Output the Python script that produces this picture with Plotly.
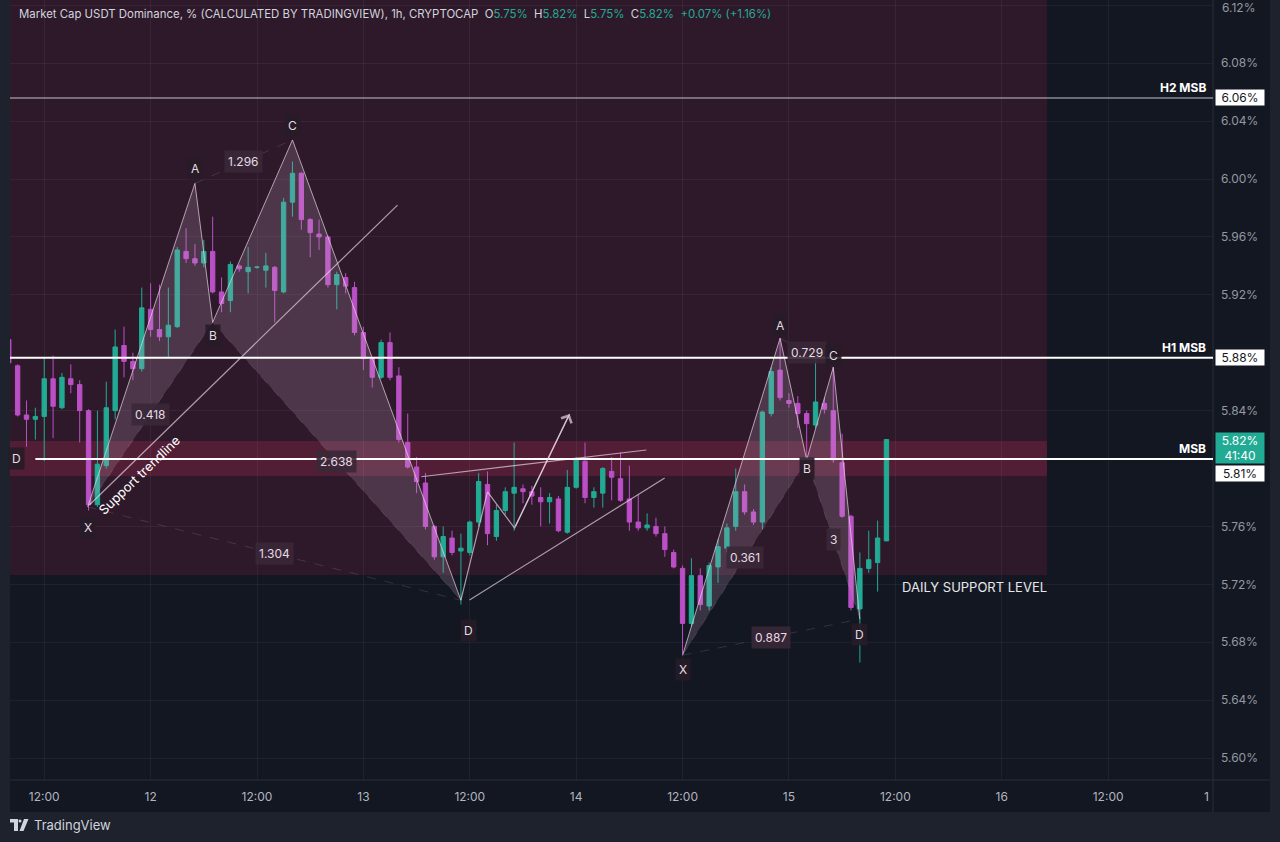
import plotly.graph_objects as go

# hourly candles, hour index counted from the 11th at 00:00
HOURS = list(range(8, 108))
OPEN = [
    5.889, 5.871, 5.837, 5.834, 5.836, 5.862, 5.842, 5.862, 5.858, 5.840,
    5.775, 5.802, 5.840, 5.885, 5.874, 5.869, 5.910, 5.896, 5.891, 5.898,
    5.950, 5.945, 5.942, 5.950, 5.922, 5.916, 5.940, 5.936, 5.939, 5.937,
    5.939, 5.922, 5.984, 6.004, 5.972, 5.962, 5.960, 5.927, 5.932, 5.925,
    5.894, 5.876, 5.863, 5.887, 5.864, 5.818, 5.801, 5.790, 5.760, 5.739,
    5.752, 5.743, 5.742, 5.763, 5.789, 5.753, 5.771, 5.783, 5.786, 5.784,
    5.780, 5.777, 5.779, 5.756, 5.787, 5.805, 5.780, 5.783, 5.798, 5.793,
    5.779, 5.763, 5.759, 5.760, 5.755, 5.742, 5.731, 5.693, 5.726, 5.705,
    5.732, 5.745, 5.760, 5.784, 5.770, 5.763, 5.838, 5.868, 5.847, 5.845,
    5.838, 5.830, 5.845, 5.840, 5.804, 5.767, 5.703, 5.731, 5.735, 5.750,
]
HIGH = [
    5.890, 5.872, 5.847, 5.842, 5.877, 5.878, 5.866, 5.872, 5.861, 5.841,
    5.840, 5.860, 5.896, 5.898, 5.880, 5.925, 5.928, 5.927, 5.925, 5.953,
    5.966, 5.955, 5.958, 5.974, 5.932, 5.943, 5.941, 5.953, 5.940, 5.949,
    5.940, 5.987, 6.012, 6.005, 5.973, 5.972, 5.961, 5.936, 5.935, 5.929,
    5.898, 5.877, 5.889, 5.894, 5.870, 5.838, 5.808, 5.797, 5.761, 5.760,
    5.757, 5.755, 5.764, 5.797, 5.798, 5.775, 5.787, 5.818, 5.789, 5.788,
    5.787, 5.783, 5.781, 5.799, 5.808, 5.818, 5.787, 5.801, 5.808, 5.811,
    5.802, 5.782, 5.769, 5.766, 5.760, 5.744, 5.733, 5.738, 5.731, 5.735,
    5.751, 5.762, 5.800, 5.789, 5.772, 5.840, 5.870, 5.890, 5.852, 5.850,
    5.840, 5.878, 5.849, 5.870, 5.824, 5.768, 5.742, 5.757, 5.764, 5.820,
]
LOW = [
    5.871, 5.836, 5.815, 5.820, 5.805, 5.821, 5.841, 5.852, 5.818, 5.771,
    5.7735, 5.800, 5.834, 5.863, 5.861, 5.867, 5.891, 5.888, 5.876, 5.897,
    5.942, 5.940, 5.939, 5.921, 5.908, 5.908, 5.936, 5.921, 5.938, 5.925,
    5.901, 5.921, 5.974, 5.965, 5.946, 5.951, 5.925, 5.910, 5.921, 5.892,
    5.868, 5.856, 5.862, 5.861, 5.818, 5.800, 5.783, 5.758, 5.737, 5.728,
    5.740, 5.706, 5.740, 5.760, 5.747, 5.750, 5.768, 5.757, 5.776, 5.775,
    5.760, 5.762, 5.756, 5.755, 5.786, 5.776, 5.773, 5.773, 5.778, 5.777,
    5.757, 5.757, 5.757, 5.753, 5.739, 5.731, 5.672, 5.691, 5.702, 5.702,
    5.721, 5.742, 5.757, 5.768, 5.761, 5.758, 5.836, 5.847, 5.842, 5.828,
    5.806, 5.828, 5.838, 5.804, 5.766, 5.702, 5.666, 5.728, 5.715, 5.750,
]
CLOSE = [
    5.873, 5.837, 5.834, 5.836, 5.862, 5.843, 5.863, 5.858, 5.840, 5.775,
    5.803, 5.842, 5.884, 5.874, 5.869, 5.911, 5.896, 5.891, 5.899, 5.951,
    5.945, 5.942, 5.950, 5.922, 5.914, 5.941, 5.938, 5.939, 5.9392, 5.940,
    5.923, 5.984, 6.004, 5.972, 5.963, 5.960, 5.927, 5.934, 5.926, 5.894,
    5.876, 5.863, 5.887, 5.863, 5.820, 5.801, 5.791, 5.760, 5.739, 5.753,
    5.742, 5.745, 5.763, 5.791, 5.755, 5.771, 5.784, 5.787, 5.784, 5.781,
    5.777, 5.780, 5.757, 5.787, 5.807, 5.780, 5.784, 5.800, 5.794, 5.778,
    5.763, 5.759, 5.761, 5.755, 5.744, 5.732, 5.693, 5.726, 5.706, 5.733,
    5.746, 5.759, 5.784, 5.770, 5.763, 5.839, 5.867, 5.849, 5.845, 5.838,
    5.831, 5.846, 5.841, 5.806, 5.767, 5.704, 5.731, 5.737, 5.752, 5.820,
]

X_TICKS = [12, 24, 36, 48, 60, 72, 84, 96, 108, 120, 132]
X_TICK_TEXT = ["12:00", "12", "12:00", "13", "12:00", "14", "12:00", "15", "12:00", "16", "12:00"]
Y_TICKS = [5.60, 5.64, 5.68, 5.72, 5.76, 5.84, 5.92, 5.96, 6.00, 6.04, 6.08, 6.12]
Y_TOP_LABEL = 6.12   # plotly drops this label at the very top edge, written by hand

# market structure levels
LEVEL_NAMES = ["H2 MSB", "H1 MSB", "MSB"]
LEVEL_PRICES = [6.056, 5.8765, 5.8066]
LEVEL_TAGS = ["6.06%", "5.88%", "5.81%"]
ZONE_BOTTOM = 5.7264      # daily support box
ZONE_END = 125.1
BAND = [5.7948, 5.819]     # MSB band

# XABCD patterns: points X, A, B, C, D and ratios XB, AC, BD, XD
P1_HOURS = [16.9, 29.0, 31.0, 40.0, 59.0]
P1_PRICES = [5.7735, 5.997, 5.901, 6.027, 5.709]
P1_RATIOS = ["0.418", "1.296", "2.638", "1.304"]
P2_HOURS = [84.0, 95.0, 98.0, 101.0, 104.0]
P2_PRICES = [5.671, 5.890, 5.806, 5.870, 5.696]
P2_RATIOS = ["0.361", "0.729", "3", "0.887"]

# hand drawn lines
TREND_HOURS = [17.09, 51.85]
TREND_PRICES = [5.7748, 5.982]
WEDGE_UP_HOURS = [54.53, 79.91]
WEDGE_UP_PRICES = [5.7943, 5.8128]
WEDGE_LOW_HOURS = [59.97, 81.98]
WEDGE_LOW_PRICES = [5.7092, 5.7934]
ARROW_HOURS = [59.0, 62.0, 65.05, 71.26]
ARROW_PRICES = [5.709, 5.7838, 5.7589, 5.8377]

BG = "#131722"
TEAL = "#22ab94"
MAGENTA = "#bb4fc6"
FONT = "Inter"

# plot area in pixels: left 10, right 1213, top 0, bottom 780
L, R, T, B = 10, 67, 0, 62
PW, PH = 1280 - L - R, 842 - T - B


def px(x):
    return (x - L) / PW


def py(y):
    return (PH + T - y) / PH


fig = go.Figure()

LINE_COL = "rgba(232,212,228,0.7)"
FILL_COL = "rgba(205,168,198,0.2)"


def pattern_fills(hours, prices):
    x, a, b, c, d = range(5)
    for tri in ([x, a, b, x], [b, c, d, b]):
        fig.add_trace(go.Scatter(
            x=[hours[i] for i in tri], y=[prices[i] for i in tri],
            fill="toself", fillcolor=FILL_COL, mode="lines",
            line=dict(width=0), hoverinfo="skip", showlegend=False,
        ))


def pattern_lines(hours, prices, ratios, shifts):
    fig.add_trace(go.Scatter(
        x=hours, y=prices, mode="lines",
        line=dict(color=LINE_COL, width=1), hoverinfo="skip", showlegend=False,
    ))
    for (i, j), text in zip([(0, 2), (1, 3), (2, 4), (0, 4)], ratios):
        fig.add_trace(go.Scatter(
            x=[hours[i], hours[j]], y=[prices[i], prices[j]], mode="lines",
            line=dict(color="rgba(232,212,228,0.14)", width=1, dash="dash"),
            hoverinfo="skip", showlegend=False,
        ))
        fig.add_annotation(
            x=(hours[i] + hours[j]) / 2, y=(prices[i] + prices[j]) / 2,
            text=text, showarrow=False, bgcolor="rgba(58,40,55,0.9)", borderpad=3,
            font=dict(family=FONT, size=12, color="#e6dae4"),
        )
    for name, h, p, (dx, dy) in zip("XABCD", hours, prices, shifts):
        fig.add_annotation(
            x=h, y=p, text=name, showarrow=False, xshift=dx, yshift=dy,
            bgcolor="rgba(38,28,38,0.9)", borderpad=3,
            font=dict(family=FONT, size=12, color="#e6dae4"),
        )


pattern_fills(P1_HOURS, P1_PRICES)
pattern_fills(P2_HOURS, P2_PRICES)

fig.add_trace(go.Candlestick(
    x=HOURS, open=OPEN, high=HIGH, low=LOW, close=CLOSE,
    increasing=dict(line=dict(color=TEAL, width=1), fillcolor=TEAL),
    decreasing=dict(line=dict(color=MAGENTA, width=1), fillcolor=MAGENTA),
    showlegend=False, hoverinfo="skip",
))

pattern_lines(P1_HOURS, P1_PRICES, P1_RATIOS, [(0, -21), (0, 15), (0, -13), (0, 14), (8, -30)])
pattern_lines(P2_HOURS, P2_PRICES, P2_RATIOS, [(0, -14), (0, 13), (0, -9), (0, 12), (0, -15)])

for hs, ps in [(TREND_HOURS, TREND_PRICES), (WEDGE_UP_HOURS, WEDGE_UP_PRICES),
               (WEDGE_LOW_HOURS, WEDGE_LOW_PRICES), (ARROW_HOURS, ARROW_PRICES)]:
    fig.add_trace(go.Scatter(
        x=hs, y=ps, mode="lines", line=dict(color=LINE_COL, width=1.2),
        hoverinfo="skip", showlegend=False,
    ))
fig.add_annotation(
    x=ARROW_HOURS[-1], y=ARROW_PRICES[-1], ax=ARROW_HOURS[-2], ay=ARROW_PRICES[-2],
    xref="x", yref="y", axref="x", ayref="y", text="", showarrow=True,
    arrowhead=4, arrowsize=1.6, arrowwidth=1.4, arrowcolor=LINE_COL,
)

# frame and background boxes
fig.add_shape(type="rect", xref="paper", yref="paper", x0=0, x1=px(1270), y0=py(812), y1=1,
              fillcolor=BG, line_width=0, layer="below")
fig.add_shape(type="rect", x0=0, x1=ZONE_END, y0=ZONE_BOTTOM, y1=6.3,
              fillcolor="rgba(110,30,65,0.30)", line_width=0, layer="below")
fig.add_shape(type="rect", x0=0, x1=ZONE_END, y0=BAND[0], y1=BAND[1],
              fillcolor="rgba(150,40,75,0.35)", line_width=0, layer="below")
fig.add_shape(type="line", xref="paper", yref="paper", x0=0, x1=px(1270), y0=0, y1=0,
              line=dict(color="#2a2e39", width=1))
fig.add_shape(type="line", xref="paper", yref="paper", x0=1, x1=1, y0=py(812), y1=1,
              line=dict(color="#2a2e39", width=1))

# levels
starts = [0, 0, 11]
widths = [1, 2, 2]
colors = ["rgba(225,225,230,0.85)", "#ffffff", "#ffffff"]
shifts = [0, 0, -15]
for name, price, tag, x0, w, col, sh in zip(LEVEL_NAMES, LEVEL_PRICES, LEVEL_TAGS,
                                             starts, widths, colors, shifts):
    fig.add_shape(type="line", x0=x0, x1=150, y0=price, y1=price,
                  line=dict(color=col, width=w), layer="above")
    fig.add_annotation(
        xref="paper", yref="y", x=px(1208), y=price, xanchor="right", yanchor="bottom",
        yshift=1, text=f"<b>{name}</b>", showarrow=False,
        font=dict(family=FONT, size=12, color="#ffffff"),
    )
    fig.add_annotation(
        xref="paper", yref="y", x=px(1215), y=price, xanchor="left", yshift=sh,
        text=tag, showarrow=False, bgcolor="#ffffff", width=46, height=13, borderpad=1,
        font=dict(family=FONT, size=12, color=BG),
    )
fig.add_annotation(
    xref="paper", yref="y", x=px(1215), y=CLOSE[-1], xanchor="left", yshift=-8,
    text="5.82%<br>41:40", showarrow=False, bgcolor=TEAL, width=46, height=28, borderpad=1,
    font=dict(family=FONT, size=12, color="#ffffff"),
)
fig.add_annotation(
    xref="paper", yref="y", x=px(1220), y=Y_TOP_LABEL, xanchor="left", yanchor="middle",
    yshift=-2, text=f"{Y_TOP_LABEL:.2f}%", showarrow=False,
    font=dict(family=FONT, size=12, color="#9598a1"),
)

# other labels
fig.add_annotation(x=8.85, y=LEVEL_PRICES[2], text="D", showarrow=False,
                   bgcolor="rgba(38,28,38,0.9)", borderpad=3,
                   font=dict(family=FONT, size=12, color="#e6dae4"))
fig.add_annotation(x=22.7, y=5.7955, text="Support trendline", textangle=-44,
                   showarrow=False, font=dict(family=FONT, size=13, color="#ffffff"))
fig.add_annotation(x=108.5, y=5.7181, text="DAILY SUPPORT LEVEL", xanchor="left",
                   showarrow=False, font=dict(family=FONT, size=13, color="#e8e8ec"))
fig.add_annotation(
    xref="paper", yref="paper", x=px(17), y=py(14), xanchor="left", yanchor="middle",
    showarrow=False,
    text=("Market Cap USDT Dominance, % (CALCULATED BY TRADINGVIEW), 1h, CRYPTOCAP  "
          f"O<span style='color:{TEAL}'>5.75%</span>  H<span style='color:{TEAL}'>5.82%</span>  "
          f"L<span style='color:{TEAL}'>5.75%</span>  C<span style='color:{TEAL}'>5.82%</span>  "
          f"<span style='color:{TEAL}'>+0.07% (+1.16%)</span>"),
    font=dict(family=FONT, size=11.4, color="#d1d4dc"),
)
fig.add_annotation(xref="paper", yref="paper", x=px(1211), y=py(796), yanchor="middle",
                   text="1", showarrow=False,
                   font=dict(family=FONT, size=12, color="#b2b5be"))

# TradingView footer
fig.add_shape(type="path", xref="paper", yref="paper",
              path=(f"M{px(10)},{py(819)} L{px(18)},{py(819)} L{px(18)},{py(831)} "
                    f"L{px(14)},{py(831)} L{px(14)},{py(822.5)} L{px(10)},{py(822.5)} Z"),
              fillcolor="#d1d4dc", line_width=0)
fig.add_shape(type="circle", xref="paper", yref="paper",
              x0=px(18.5), x1=px(21.5), y0=py(822.5), y1=py(819.5),
              fillcolor="#d1d4dc", line_width=0)
fig.add_shape(type="path", xref="paper", yref="paper",
              path=(f"M{px(24)},{py(819)} L{px(28.5)},{py(819)} L{px(23.5)},{py(831)} "
                    f"L{px(19.5)},{py(831)} Z"),
              fillcolor="#d1d4dc", line_width=0)
fig.add_annotation(xref="paper", yref="paper", x=px(32), y=py(825), xanchor="left",
                   yanchor="middle", text="TradingView", showarrow=False,
                   font=dict(family=FONT, size=13, color="#d1d4dc"))

fig.update_layout(
    width=1280, height=842,
    margin=dict(l=L, r=R, t=T, b=B, autoexpand=False),
    paper_bgcolor="#1e222d", plot_bgcolor=BG,
    showlegend=False,
    font=dict(family=FONT, color="#b2b5be", size=12),
    xaxis=dict(
        range=[8.14, 143.83], tickvals=X_TICKS, ticktext=X_TICK_TEXT,
        showgrid=True, gridcolor="rgba(255,255,255,0.05)", zeroline=False,
        rangeslider=dict(visible=False), ticklabelstandoff=8, automargin=False,
        tickfont=dict(size=12, color="#b2b5be"),
    ),
    yaxis=dict(
        range=[5.5848, 6.1237], side="right", tickvals=Y_TICKS,
        ticktext=["" if v == Y_TOP_LABEL else f"{v:.2f}%" for v in Y_TICKS],
        showgrid=True, gridcolor="rgba(255,255,255,0.05)", zeroline=False,
        ticklabelstandoff=7, automargin=False, tickfont=dict(size=12, color="#9598a1"),
    ),
)

# the page margin would push the figure 8px off the window corner
fig.write_html("out.html", config={"displayModeBar": False},
               post_script="document.body.style.margin = '0';")
